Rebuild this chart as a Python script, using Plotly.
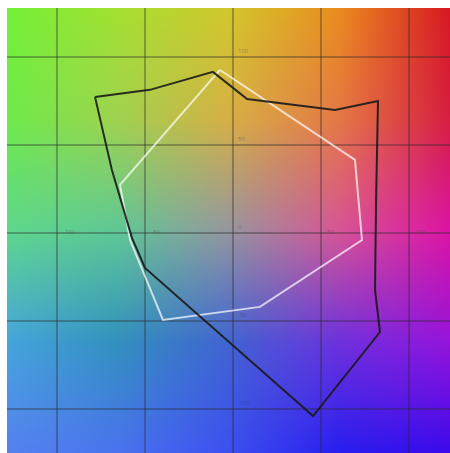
import base64
import struct
import zlib
import numpy as np
import plotly.graph_objects as go

# ---- data (a*, b* coordinates) ----
grid_ticks = [-100, -50, 0, 50, 100]
tick_labels = ["-100", "-50", "0", "50", "100"]

black_a = [-78.4, -47.2, -11.4, 8.0, 58.0, 82.4, 81.3, 80.7, 83.5, 45.5, -50.0, -57.4, -68.8, -78.4]
black_b = [77.3, 81.3, 91.5, 76.1, 69.9, 75.0, 18.8, -32.4, -56.3, -104.0, -19.9, -2.8, 35.8, 77.3]

white_a = [-7.4, 69.3, 73.3, 15.3, -39.8, -58.5, -64.2, -7.4]
white_b = [92.6, 41.5, -4.0, -42.0, -49.4, -4.0, 27.3, 92.6]

# ---- axis extent ----
X0, X1 = -128.4, 123.3
Y0, Y1 = -125.0, 127.8

# ---- background colour field (style) ----
ctrl = np.array([
    [(115, 240, 55), (165, 225, 50), (210, 200, 45), (235, 140, 30), (215, 25, 35)],
    [(110, 235, 75), (160, 210, 80), (215, 175, 70), (228, 120, 70), (215, 30, 65)],
    [(95, 215, 140), (95, 200, 150), (150, 150, 160), (215, 85, 150), (220, 20, 165)],
    [(70, 165, 220), (50, 145, 190), (65, 100, 210), (110, 50, 220), (150, 20, 220)],
    [(85, 130, 240), (75, 115, 240), (60, 80, 240), (40, 30, 240), (60, 10, 235)],
], dtype=float)

W, H = 443, 445
u = np.linspace(0, 4, W)
v = np.linspace(0, 4, H)
iu = np.clip(np.floor(u).astype(int), 0, 3)
iv = np.clip(np.floor(v).astype(int), 0, 3)
fu = (u - iu)[None, :, None]
fv = (v - iv)[:, None, None]
c00 = ctrl[iv][:, iu]
c01 = ctrl[iv][:, iu + 1]
c10 = ctrl[iv + 1][:, iu]
c11 = ctrl[iv + 1][:, iu + 1]
img = (c00 * (1 - fu) * (1 - fv) + c01 * fu * (1 - fv) + c10 * (1 - fu) * fv + c11 * fu * fv)
img = np.clip(img, 0, 255).astype(np.uint8)


def png_uri(arr):
    h, w, _ = arr.shape
    raw = b"".join(b"\x00" + arr[r].tobytes() for r in range(h))

    def chunk(tag, data):
        c = struct.pack(">I", len(data)) + tag + data
        return c + struct.pack(">I", zlib.crc32(tag + data) & 0xFFFFFFFF)

    png = b"\x89PNG\r\n\x1a\n"
    png += chunk(b"IHDR", struct.pack(">IIBBBBB", w, h, 8, 2, 0, 0, 0))
    png += chunk(b"IDAT", zlib.compress(raw, 9))
    png += chunk(b"IEND", b"")
    return "data:image/png;base64," + base64.b64encode(png).decode()


fig = go.Figure()

# grid lines
for t in grid_ticks:
    fig.add_trace(go.Scatter(x=[t, t], y=[Y0, Y1], mode="lines",
                             line=dict(color="rgba(40,40,40,0.35)", width=2),
                             hoverinfo="skip", showlegend=False))
    fig.add_trace(go.Scatter(x=[X0, X1], y=[t, t], mode="lines",
                             line=dict(color="rgba(40,40,40,0.35)", width=2),
                             hoverinfo="skip", showlegend=False))

# faint tick labels
for t, lab in zip(grid_ticks, tick_labels):
    if t != 0:
        fig.add_annotation(x=t, y=0, text=lab, showarrow=False, xanchor="left", yanchor="middle",
                           xshift=4, yshift=1, font=dict(size=6, color="rgba(60,60,60,0.45)"))
    fig.add_annotation(x=0, y=t, text=lab, showarrow=False, xanchor="left", yanchor="bottom",
                       xshift=3, font=dict(size=6, color="rgba(60,60,60,0.45)"))

fig.add_trace(go.Scatter(x=white_a, y=white_b, mode="lines",
                         line=dict(color="rgba(255,255,255,0.7)", width=2),
                         hoverinfo="skip", showlegend=False))
fig.add_trace(go.Scatter(x=black_a, y=black_b, mode="lines",
                         line=dict(color="rgba(25,25,25,0.9)", width=2),
                         hoverinfo="skip", showlegend=False))

fig.add_layout_image(dict(source=png_uri(img), xref="x", yref="y", x=X0, y=Y1,
                          sizex=X1 - X0, sizey=Y1 - Y0, sizing="stretch",
                          xanchor="left", yanchor="top", layer="below"))

fig.update_layout(
    width=450, height=453,
    margin=dict(l=7, r=0, t=8, b=0),
    paper_bgcolor="white", plot_bgcolor="white",
    showlegend=False,
    xaxis=dict(range=[X0, X1], visible=False, showgrid=False, zeroline=False),
    yaxis=dict(range=[Y0, Y1], visible=False, showgrid=False, zeroline=False),
)
fig.write_html("out.html", config={"displayModeBar": False},
               post_script="document.body.style.margin='0px';")
